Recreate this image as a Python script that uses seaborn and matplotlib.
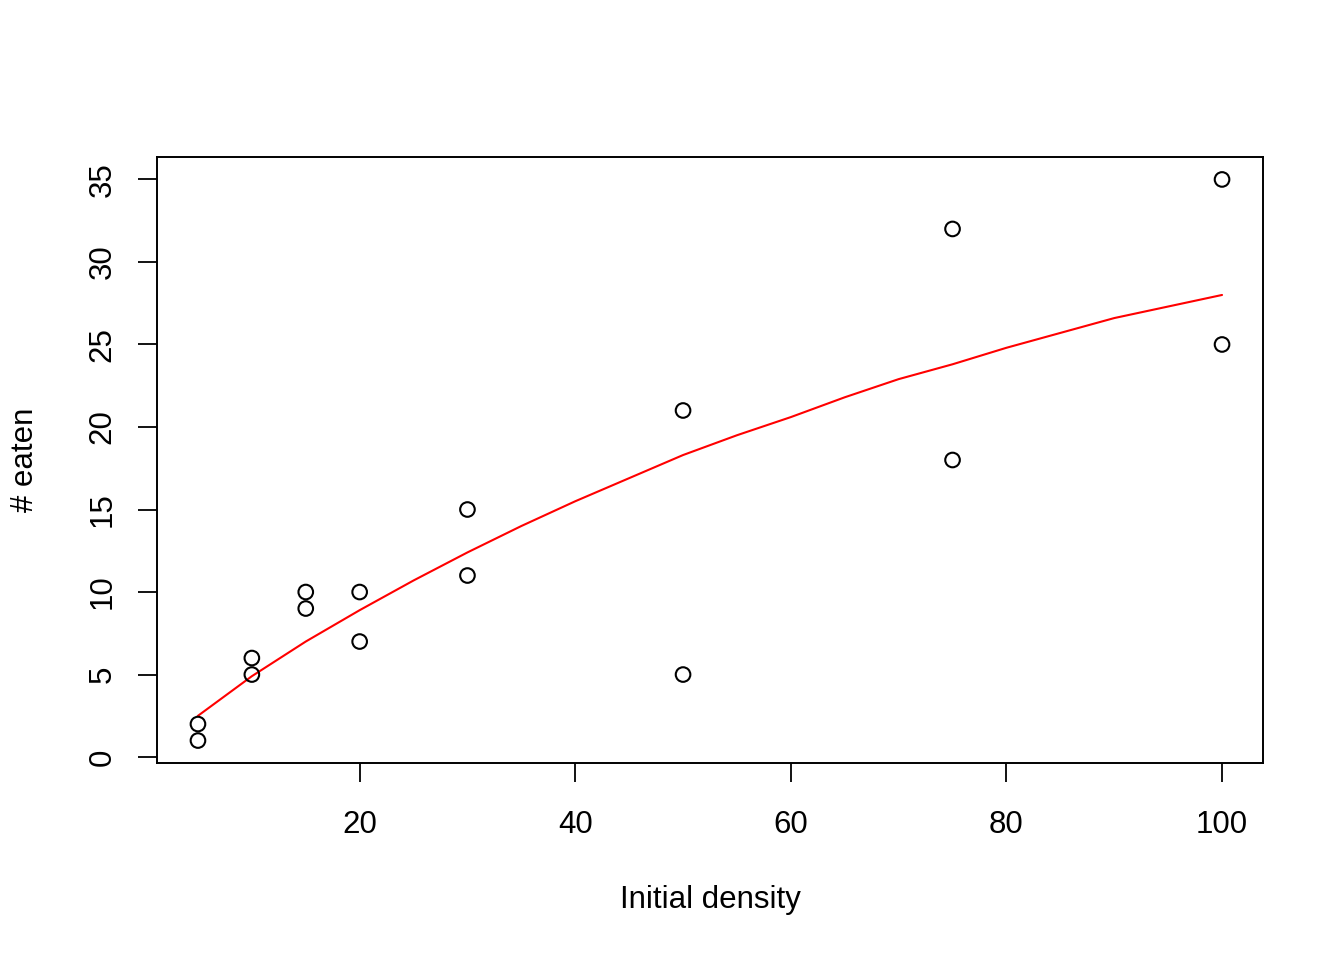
import matplotlib
matplotlib.use("Agg")
import matplotlib.pyplot as plt
import seaborn as sns
import pandas as pd

# observed data: initial prey density and number eaten
density = [5, 5, 10, 10, 15, 15, 20, 20, 30, 30, 50, 50, 75, 75, 100, 100]
eaten = [2, 1, 6, 5, 10, 9, 10, 7, 15, 11, 21, 5, 32, 18, 35, 25]

# fitted curve
curve_x = [5, 10, 15, 20, 25, 30, 35, 40, 45, 50, 55, 60, 65, 70, 75, 80, 85, 90, 95, 100]
curve_y = [2.5, 4.9, 7.0, 8.9, 10.7, 12.4, 14.0, 15.5, 16.9, 18.3, 19.5, 20.6, 21.8,
           22.9, 23.8, 24.8, 25.7, 26.6, 27.3, 28.0]

x_ticks = [20, 40, 60, 80, 100]
y_ticks = [0, 5, 10, 15, 20, 25, 30, 35]

pts = pd.DataFrame({'density': density, 'eaten': eaten})
fit = pd.DataFrame({'density': curve_x, 'eaten': curve_y})

sns.set_style("white")
plt.rcParams['font.family'] = ['Liberation Sans', 'DejaVu Sans']
plt.rcParams['text.color'] = 'black'
plt.rcParams['axes.labelcolor'] = 'black'
plt.rcParams['xtick.color'] = 'black'
plt.rcParams['ytick.color'] = 'black'

fig = plt.figure(figsize=(13.44, 9.6), dpi=100)
ax = fig.add_axes([157 / 1344, 1 - 763 / 960, (1263 - 157) / 1344, (763 - 157) / 960])

sns.scatterplot(data=pts, x='density', y='eaten', ax=ax, marker='o', s=10.5 ** 2,
                facecolor='none', edgecolor='black', linewidth=1.5, zorder=3)
sns.lineplot(data=fit, x='density', y='eaten', ax=ax, color='red', linewidth=1.5,
             estimator=None, zorder=2)

# R-style 4% padding around the data range
ax.set_xlim(5 - 0.04 * 95, 100 + 0.04 * 95)
ax.set_ylim(1 - 0.04 * 34, 35 + 0.04 * 34)
ax.set_xticks(x_ticks)
ax.set_yticks(y_ticks)
ax.set_xticklabels([str(v) for v in x_ticks], fontsize=22.5)
ax.set_yticklabels([str(v) for v in y_ticks], fontsize=22.5, rotation=90, va='center')
ax.tick_params(axis='both', direction='out', length=13.7, width=1.3, color='black',
               labelcolor='black', left=True, bottom=True)
ax.tick_params(axis='x', pad=20)
ax.tick_params(axis='y', pad=14.5)

for s in ax.spines.values():
    s.set_visible(True)
    s.set_color('black')
    s.set_linewidth(1.4)

ax.set_xlabel('Initial density', fontsize=22.5, color='black')
ax.set_ylabel('# eaten', fontsize=22.5, color='black')
ax.xaxis.set_label_coords(0.5, -(900 - 763) / 606, transform=ax.transAxes)
ax.yaxis.set_label_coords(-(157 - 25) / 1106, 0.5, transform=ax.transAxes)
ax.xaxis.label.set_va('center')
ax.yaxis.label.set_va('center')

plt.savefig('out.png', dpi=100)
